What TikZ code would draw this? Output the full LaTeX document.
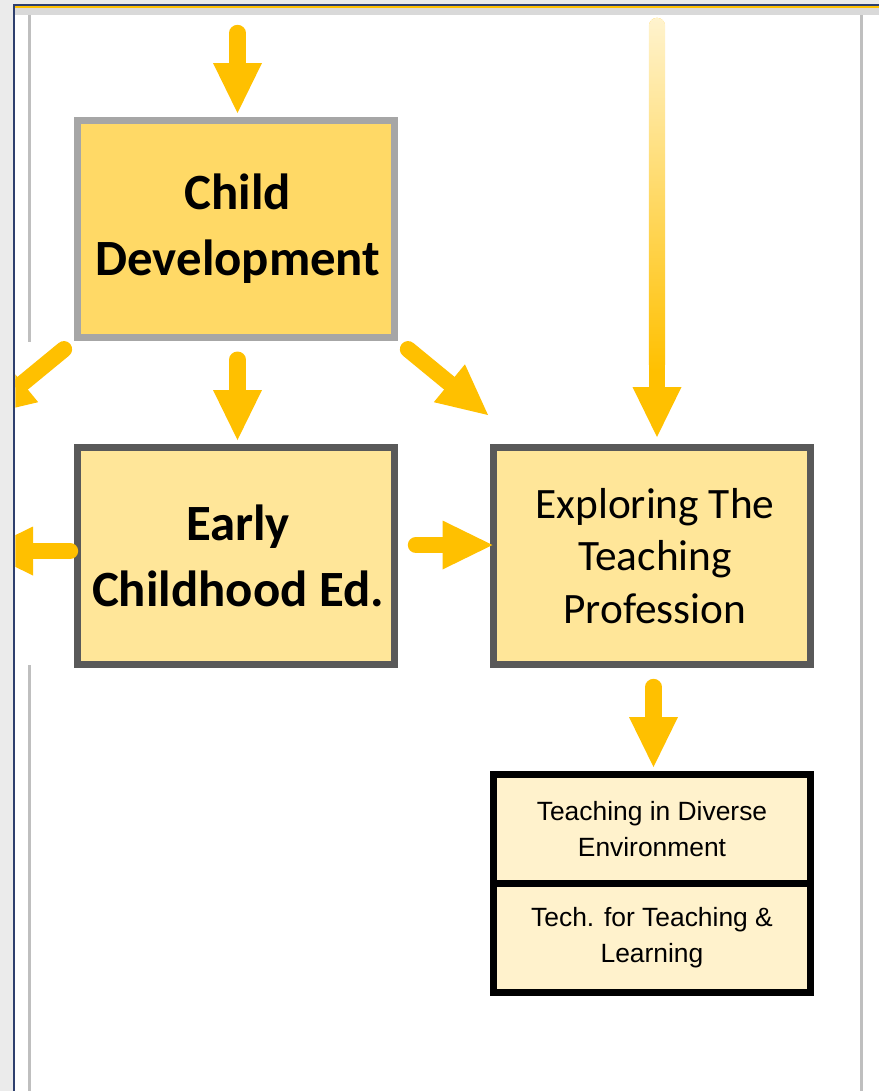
\documentclass[tikz,border=0pt]{standalone}
\usepackage{fontspec}
\setmainfont{Carlito}
\newfontfamily\lsans{Liberation Sans}
\usetikzlibrary{arrows.meta,calc}
\definecolor{arrowc}{HTML}{FFC000}
\definecolor{gradtop}{HTML}{FFF3CE}
\definecolor{cdfill}{HTML}{FFD966}
\definecolor{cdborder}{HTML}{A6A6A6}
\definecolor{lightfill}{HTML}{FFE699}
\definecolor{darkborder}{HTML}{595959}
\definecolor{palefill}{HTML}{FFF2CC}
\definecolor{navy}{HTML}{2E3F6E}
\definecolor{bandgray}{HTML}{D9D9D9}
\definecolor{linegray}{HTML}{BFBFBF}
\definecolor{basegray}{HTML}{EBEBEB}
\begin{document}
\begin{tikzpicture}[x=1bp,y=-1bp,
  box/.style={draw, line width=7bp, minimum width=317bp, minimum height=217bp, inner sep=0pt, align=center},
  bigbold/.style={font=\fontsize{51}{66}\selectfont\bfseries},
  mediumtext/.style={font=\fontsize{43.5}{52.5}\selectfont},
  smalltext/.style={font=\lsans\fontsize{26.5}{36}\selectfont},
  blockarrow/.style={draw=arrowc, line width=16.4bp, line cap=round,
    -{Triangle[width=49bp,length=50bp,line width=0pt]}},
]
\useasboundingbox (0,0) rectangle (879,1091);
% window frame
\fill[basegray] (0,0) rectangle (879,1091);
\fill[white] (15.3,15) rectangle (879,1091);
\fill[navy] (13,4) rectangle (879,5.5);
\fill[navy] (13,4) rectangle (15.3,1091);
\fill[arrowc] (15.3,5.5) rectangle (879,7.5);
\fill[bandgray] (15.3,7.5) rectangle (879,15);
\fill[linegray] (28,15) rectangle (31,342);
\fill[linegray] (28,665) rectangle (31,1091);
\fill[linegray] (860,15) rectangle (863,1091);

% boxes
\node[box, draw=cdborder, fill=cdfill, bigbold] (cd) at (236,229) {\hspace*{4bp}Child\\\hspace*{4bp}Development};
\node[box, draw=darkborder, fill=lightfill, bigbold] (ece) at (236,556) {\hspace*{4bp}Early\\\hspace*{4bp}Childhood Ed.};
\node[box, draw=darkborder, fill=lightfill, mediumtext] (ext) at (652,556) {\hspace*{6bp}Exploring The\\\hspace*{6bp}Teaching\\\hspace*{6bp}Profession};
\node[box, draw=black, fill=palefill, minimum height=109bp, smalltext] (tdl1) at (652,829) {Teaching in Diverse\\Environment};
\node[box, draw=black, fill=palefill, minimum height=109bp, smalltext] (tdl2) at (652,938) {Tech. for Teaching \&\\Learning};

% free ends
\coordinate (topA) at (237.5,33);
\coordinate (topR) at (657,26);
\coordinate (dR) at (488,415);
\coordinate (dL) at (-16,415);
\coordinate (eL) at (-17,551);

% arrows
\draw[blockarrow, shorten >=4bp] (topA) -- (topA |- cd.north);
\draw[blockarrow, shorten <=18.7bp, shorten >=4bp] ([xshift=1.5bp]cd.south) -- ([xshift=1.5bp]ece.north);
\draw[blockarrow, shorten <=13bp] (cd.south east) -- (dR);
\draw[blockarrow, shorten >=7bp] (topR) -- (topR |- ext.north);
\shade[top color=gradtop, bottom color=arrowc, rounded corners=8.2bp] (648.8,17.8) rectangle (665.2,372);
\draw[blockarrow, shorten <=18bp, shorten >=-2.5bp] ([yshift=11bp]ece.east) -- ([yshift=11bp]ext.west);
\draw[blockarrow, shorten <=19bp, shorten >=4bp] ([xshift=1.5bp]ext.south) -- ([xshift=1.5bp]tdl1.north);
\begin{scope}
  \clip (15.3,0) rectangle (879,1091);
  \draw[blockarrow, shorten <=13bp] (cd.south west) -- (dL);
  \draw[blockarrow, shorten <=4bp] (ece.west |- eL) -- (eL);
\end{scope}
\end{tikzpicture}
\end{document}
